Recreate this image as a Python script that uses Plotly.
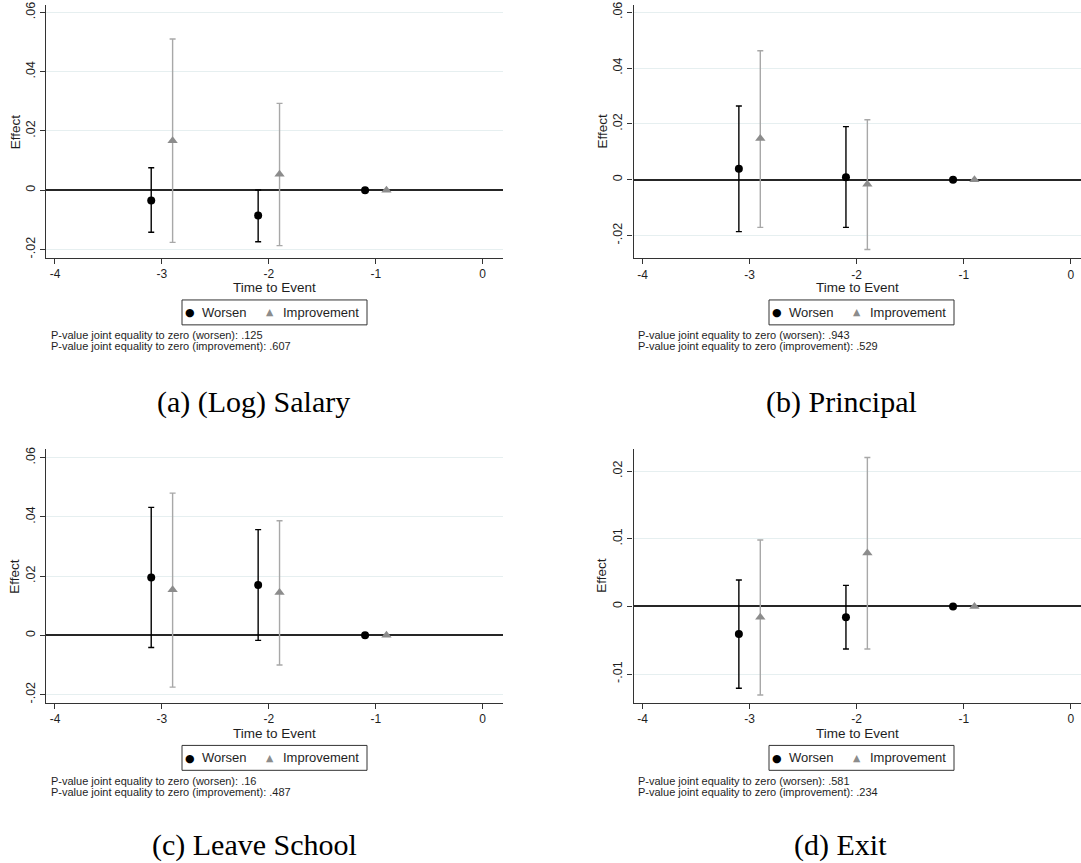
import plotly.graph_objects as go

# ---------------- data ----------------
x_worsen = [-3.1, -2.1, -1.1]
x_improve = [-2.9, -1.9, -0.9]
series_names = ["Worsen", "Improvement"]

panel_names = ["(a) (Log) Salary", "(b) Principal", "(c) Leave School", "(d) Exit"]

salary_worsen = [-0.0035, -0.0085, 0.0]
salary_worsen_lo = [-0.0142, -0.0174, None]
salary_worsen_hi = [0.0076, 0.0001, None]
salary_improve = [0.0167, 0.0054, 0.0]
salary_improve_lo = [-0.0176, -0.0187, None]
salary_improve_hi = [0.0510, 0.0293, None]

principal_worsen = [0.0039, 0.0009, 0.0]
principal_worsen_lo = [-0.0186, -0.0171, None]
principal_worsen_hi = [0.0264, 0.0190, None]
principal_improve = [0.0148, -0.0016, 0.0]
principal_improve_lo = [-0.0171, -0.0250, None]
principal_improve_hi = [0.0462, 0.0215, None]

leave_worsen = [0.0195, 0.0170, 0.0]
leave_worsen_lo = [-0.0041, -0.0017, None]
leave_worsen_hi = [0.0432, 0.0357, None]
leave_improve = [0.0154, 0.0145, 0.0]
leave_improve_lo = [-0.0175, -0.0100, None]
leave_improve_hi = [0.0480, 0.0387, None]

exit_worsen = [-0.0041, -0.0016, 0.0]
exit_worsen_lo = [-0.0121, -0.0063, None]
exit_worsen_hi = [0.0039, 0.0031, None]
exit_improve = [-0.0016, 0.0079, 0.0]
exit_improve_lo = [-0.0131, -0.0063, None]
exit_improve_hi = [0.0098, 0.0220, None]

pvals_worsen = [".125", ".943", ".16", ".581"]
pvals_improve = [".607", ".529", ".487", ".234"]

x_title = "Time to Event"
y_title = "Effect"
x_ticks = [-4, -3, -2, -1, 0]
y_ticks_main = [-0.02, 0, 0.02, 0.04, 0.06]
y_ticklabels_main = ["-.02", "0", ".02", ".04", ".06"]
y_ticks_exit = [-0.01, 0, 0.01, 0.02]
y_ticklabels_exit = ["-.01", "0", ".01", ".02"]

# --------------- layout helpers ---------------
W, H = 1081, 863
def px_x(p):
    return p / W
def px_y(p):
    return 1 - p / H

panels = [
    dict(w=salary_worsen, wlo=salary_worsen_lo, whi=salary_worsen_hi,
         i=salary_improve, ilo=salary_improve_lo, ihi=salary_improve_hi,
         xdom=[46, 502.7], ydom=[2.7, 256.7], xr=[-4.084, 0.187], yr=[-0.0228, 0.0626],
         yt=y_ticks_main, ytl=y_ticklabels_main, leg_x=182, leg_y=299,
         xt_y=286.5, yt_x=15, pv_x=49, pv_y=334, cap_x=253, cap_y=401),
    dict(w=principal_worsen, wlo=principal_worsen_lo, whi=principal_worsen_hi,
         i=principal_improve, ilo=principal_improve_lo, ihi=principal_improve_hi,
         xdom=[633.5, 1081], ydom=[2.7, 257], xr=[-4.084, 0.095], yr=[-0.0281, 0.0627],
         yt=y_ticks_main, ytl=y_ticklabels_main, leg_x=769, leg_y=299,
         xt_y=286.5, yt_x=602, pv_x=635.6, pv_y=334, cap_x=841, cap_y=401),
    dict(w=leave_worsen, wlo=leave_worsen_lo, whi=leave_worsen_hi,
         i=leave_improve, ilo=leave_improve_lo, ihi=leave_improve_hi,
         xdom=[46, 502.7], ydom=[448.3, 703.3], xr=[-4.084, 0.187], yr=[-0.0228, 0.0630],
         yt=y_ticks_main, ytl=y_ticklabels_main, leg_x=182, leg_y=746,
         xt_y=734.5, yt_x=15, pv_x=49, pv_y=781.7, cap_x=254, cap_y=846),
    dict(w=exit_worsen, wlo=exit_worsen_lo, whi=exit_worsen_hi,
         i=exit_improve, ilo=exit_improve_lo, ihi=exit_improve_hi,
         xdom=[633.5, 1081], ydom=[448.3, 703.3], xr=[-4.084, 0.095], yr=[-0.01426, 0.0233],
         yt=y_ticks_exit, ytl=y_ticklabels_exit, leg_x=769, leg_y=746,
         xt_y=734.5, yt_x=602, pv_x=635.6, pv_y=781.7, cap_x=840, cap_y=846),
]

SANS = "Liberation Sans, Arial, sans-serif"
SERIF = "Liberation Serif, Times New Roman, serif"
TXT = "#1e1e1e"
AXIS_COL = "#333333"
GRID_COL = "#e6eff0"
IMP_MARK = "#8c8c8c"
IMP_BAR = "#a8a8a8"

def err(vals, lo, hi):
    up = [None if h is None else h - v for v, h in zip(vals, hi)]
    dn = [None if l is None else v - l for v, l in zip(vals, lo)]
    return up, dn

fig = go.Figure()
layout = dict(width=W, height=H, margin=dict(l=0, r=0, t=0, b=0),
              paper_bgcolor="white", plot_bgcolor="white", showlegend=False,
              font=dict(family=SANS, color=TXT), annotations=[], shapes=[])

def ann(x, y, text, size, color=TXT, family=SANS, xanchor="left", angle=0):
    layout["annotations"].append(dict(
        xref="paper", yref="paper", x=px_x(x), y=px_y(y), xanchor=xanchor,
        yanchor="middle", showarrow=False, text=text, textangle=angle,
        font=dict(size=size, family=family, color=color)))

for k, p in enumerate(panels):
    n = "" if k == 0 else str(k + 1)
    xa, ya = "x" + n, "y" + n
    wu, wd = err(p["w"], p["wlo"], p["whi"])
    iu, idn = err(p["i"], p["ilo"], p["ihi"])
    fig.add_trace(go.Scatter(
        x=x_worsen, y=p["w"], mode="markers", name=series_names[0],
        marker=dict(symbol="circle", size=8, color="black"),
        error_y=dict(type="data", symmetric=False, array=wu, arrayminus=wd,
                     color="black", thickness=1.4, width=3),
        xaxis=xa, yaxis=ya))
    fig.add_trace(go.Scatter(
        x=x_improve, y=p["i"], mode="markers", name=series_names[1],
        marker=dict(symbol="triangle-up", size=9, color=IMP_MARK),
        error_y=dict(type="data", symmetric=False, array=iu, arrayminus=idn,
                     color=IMP_BAR, thickness=1.4, width=3),
        xaxis=xa, yaxis=ya))

    layout["xaxis" + n] = dict(
        domain=[px_x(p["xdom"][0]), px_x(p["xdom"][1])], range=p["xr"],
        anchor=ya, tickvals=x_ticks, ticktext=[str(t) for t in x_ticks],
        showgrid=False, zeroline=False, showline=True, linecolor=AXIS_COL, linewidth=1.3,
        ticks="outside", ticklen=5, tickwidth=1.2, tickcolor=AXIS_COL,
        tickfont=dict(size=12, family=SANS, color=TXT))
    layout["yaxis" + n] = dict(
        domain=[px_y(p["ydom"][1]), px_y(p["ydom"][0])], range=p["yr"],
        anchor=xa, tickvals=p["yt"], ticktext=p["ytl"], tickangle=-90,
        showgrid=True, gridcolor=GRID_COL, gridwidth=1,
        zeroline=True, zerolinecolor="#262626", zerolinewidth=1.5,
        showline=True, linecolor=AXIS_COL, linewidth=1.3,
        ticks="outside", ticklen=5, tickwidth=1.2, tickcolor=AXIS_COL,
        tickfont=dict(size=12.5, family=SANS, color=TXT))

    # axis titles
    xc = (p["xdom"][0] + min(p["xdom"][1], p["xdom"][0] + 456.7)) / 2
    ann(xc, p["xt_y"], x_title, 13.5, xanchor="center")
    ann(p["yt_x"], (p["ydom"][0] + p["ydom"][1]) / 2, y_title, 13.5, xanchor="center", angle=-90)

    # legend box (drawn per panel, Stata style)
    lx, ly = p["leg_x"], p["leg_y"]
    layout["shapes"].append(dict(
        type="rect", xref="paper", yref="paper",
        x0=px_x(lx), x1=px_x(lx + 185), y0=px_y(ly + 25), y1=px_y(ly),
        line=dict(color="#333333", width=1), fillcolor="white"))
    cy = ly + 12.5
    ann(lx + 8, cy + 0.5, "\u25CF", 11, color="black", family="DejaVu Sans", xanchor="center")
    ann(lx + 18, cy, series_names[0], 13)
    ann(lx + 88, cy - 0.5, "\u25B2", 9.5, color=IMP_MARK, family="DejaVu Sans", xanchor="center")
    ann(lx + 99, cy, series_names[1], 13)

    ann(p["pv_x"], p["pv_y"], "P-value joint equality to zero (worsen): " + pvals_worsen[k], 11)
    ann(p["pv_x"], p["pv_y"] + 11.5, "P-value joint equality to zero (improvement): " + pvals_improve[k], 11)
    ann(p["cap_x"], p["cap_y"], panel_names[k], 30, color="black", family=SERIF, xanchor="center")

fig.update_layout(**layout)
fig.write_html("out.html")
